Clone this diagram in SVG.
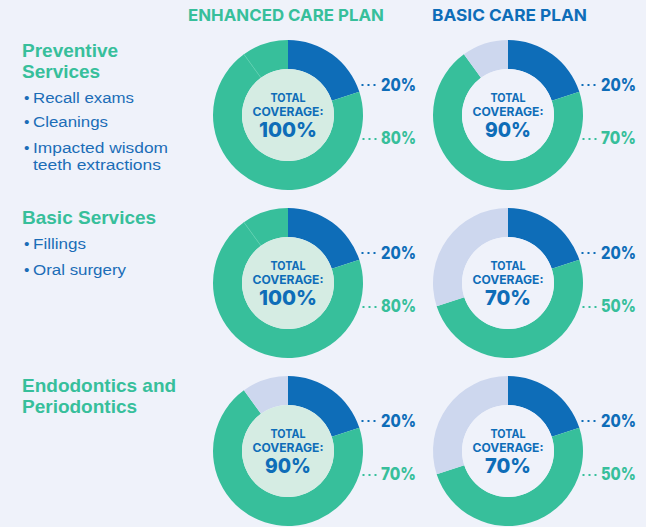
<svg xmlns="http://www.w3.org/2000/svg" width="646" height="527" viewBox="0 0 646 527">
<defs>
<style>
.hdr{font-family:Inter,"Open Sans",sans-serif;font-weight:700;font-size:16.5px}
.ttl{font-family:"Liberation Sans",Arial,sans-serif;font-weight:700;font-size:19px;fill:#37bf9b}
.bul{font-family:"Liberation Sans",Arial,sans-serif;font-size:15.5px;fill:#1b6db7}
.blue{fill:#0e6db8}
.green{fill:#37bf9b}
.light{fill:#cdd7ee}
.seam{stroke:#5ccfae;stroke-width:0.8}
.inE{fill:#d5ece3}
.inB{fill:#eff2fa}
.ct{font-family:Inter,"Open Sans",sans-serif;font-weight:800;fill:#0e6db8;text-anchor:middle}
.c1{font-size:11.5px;font-weight:700}
.c2{font-size:20.5px}
.lbl{font-family:Inter,"Open Sans",sans-serif;font-weight:800;font-size:17px;text-anchor:end}
.dotB{stroke:#0e6db8;stroke-width:2;stroke-dasharray:2 4;fill:none}
.dotG{stroke:#37bf9b;stroke-width:2;stroke-dasharray:2 4;fill:none}
</style>
<path id="segBlue" d="M0,-75 A75,75 0 0 1 71.33,-23.18 L43.75,-14.21 A46,46 0 0 0 0,-46 Z"/>
<path id="seg72_324" d="M71.33,-23.18 A75,75 0 1 1 -44.08,-60.68 L-27.04,-37.21 A46,46 0 1 0 43.75,-14.21 Z"/>
<path id="seg324_360" d="M-44.08,-60.68 A75,75 0 0 1 0,-75 L0,-46 A46,46 0 0 0 -27.04,-37.21 Z"/>
<path id="seg72_252" d="M71.33,-23.18 A75,75 0 0 1 -71.33,23.18 L-43.75,14.21 A46,46 0 0 0 43.75,-14.21 Z"/>
<path id="seg252_360" d="M-71.33,23.18 A75,75 0 0 1 0,-75 L0,-46 A46,46 0 0 0 -43.75,14.21 Z"/>
</defs>
<rect width="646" height="527" fill="#eff2fa"/>

<g id="headers">
<text class="hdr" x="188" y="21" fill="#37bf9b" textLength="196" lengthAdjust="spacingAndGlyphs">ENHANCED CARE PLAN</text>
<text class="hdr" x="432" y="21" fill="#0e6db8" textLength="155" lengthAdjust="spacingAndGlyphs">BASIC CARE PLAN</text>
</g>

<g id="row1-label">
<text class="ttl" x="22" y="57">Preventive</text>
<text class="ttl" x="22" y="78">Services</text>
<text class="bul" x="24" y="103">•</text><text class="bul" x="33" y="103" textLength="101" lengthAdjust="spacingAndGlyphs">Recall exams</text>
<text class="bul" x="24" y="127">•</text><text class="bul" x="33" y="127" textLength="75" lengthAdjust="spacingAndGlyphs">Cleanings</text>
<text class="bul" x="24" y="152.5">•</text><text class="bul" x="33" y="152.5" textLength="135" lengthAdjust="spacingAndGlyphs">Impacted wisdom</text>
<text class="bul" x="33" y="170" textLength="128" lengthAdjust="spacingAndGlyphs">teeth extractions</text>
</g>
<g id="row2-label">
<text class="ttl" x="22" y="224">Basic Services</text>
<text class="bul" x="24" y="249">•</text><text class="bul" x="33" y="249" textLength="53" lengthAdjust="spacingAndGlyphs">Fillings</text>
<text class="bul" x="24" y="275">•</text><text class="bul" x="33" y="275" textLength="93" lengthAdjust="spacingAndGlyphs">Oral surgery</text>
</g>
<g id="row3-label">
<text class="ttl" x="22" y="392">Endodontics and</text>
<text class="ttl" x="22" y="413">Periodontics</text>
</g>

<!-- Row 1 -->
<g id="donut-r1-enhanced" transform="translate(288,115)">
<use href="#segBlue" class="blue"/>
<use href="#seg72_324" class="green"/>
<use href="#seg324_360" class="green"/>
<line class="seam" x1="-27.04" y1="-37.21" x2="-44.08" y2="-60.68"/>
<circle r="46" class="inE"/>
<text class="ct c1" y="-13" textLength="35" lengthAdjust="spacingAndGlyphs">TOTAL</text>
<text class="ct c1" y="0.5" textLength="71" lengthAdjust="spacingAndGlyphs">COVERAGE:</text>
<text class="ct c2" y="22" textLength="58" lengthAdjust="spacingAndGlyphs">100%</text>
<text class="lbl blue" x="128" y="-24" textLength="35" lengthAdjust="spacingAndGlyphs">20%</text>
<text class="lbl green" x="128" y="29" textLength="35" lengthAdjust="spacingAndGlyphs">80%</text>
</g>
<g id="donut-r1-basic" transform="translate(508,115)">
<use href="#segBlue" class="blue"/>
<use href="#seg72_324" class="green"/>
<use href="#seg324_360" class="light"/>
<circle r="46" class="inB"/>
<text class="ct c1" y="-13" textLength="35" lengthAdjust="spacingAndGlyphs">TOTAL</text>
<text class="ct c1" y="0.5" textLength="71" lengthAdjust="spacingAndGlyphs">COVERAGE:</text>
<text class="ct c2" y="22" textLength="46" lengthAdjust="spacingAndGlyphs">90%</text>
<text class="lbl blue" x="128" y="-24" textLength="35" lengthAdjust="spacingAndGlyphs">20%</text>
<text class="lbl green" x="128" y="29" textLength="35" lengthAdjust="spacingAndGlyphs">70%</text>
</g>

<!-- Row 2 -->
<g id="donut-r2-enhanced" transform="translate(288,283)">
<use href="#segBlue" class="blue"/>
<use href="#seg72_324" class="green"/>
<use href="#seg324_360" class="green"/>
<line class="seam" x1="-27.04" y1="-37.21" x2="-44.08" y2="-60.68"/>
<circle r="46" class="inE"/>
<text class="ct c1" y="-13" textLength="35" lengthAdjust="spacingAndGlyphs">TOTAL</text>
<text class="ct c1" y="0.5" textLength="71" lengthAdjust="spacingAndGlyphs">COVERAGE:</text>
<text class="ct c2" y="22" textLength="58" lengthAdjust="spacingAndGlyphs">100%</text>
<text class="lbl blue" x="128" y="-24" textLength="35" lengthAdjust="spacingAndGlyphs">20%</text>
<text class="lbl green" x="128" y="29" textLength="35" lengthAdjust="spacingAndGlyphs">80%</text>
</g>
<g id="donut-r2-basic" transform="translate(508,283)">
<use href="#segBlue" class="blue"/>
<use href="#seg72_252" class="green"/>
<use href="#seg252_360" class="light"/>
<circle r="46" class="inB"/>
<text class="ct c1" y="-13" textLength="35" lengthAdjust="spacingAndGlyphs">TOTAL</text>
<text class="ct c1" y="0.5" textLength="71" lengthAdjust="spacingAndGlyphs">COVERAGE:</text>
<text class="ct c2" y="22" textLength="46" lengthAdjust="spacingAndGlyphs">70%</text>
<text class="lbl blue" x="128" y="-24" textLength="35" lengthAdjust="spacingAndGlyphs">20%</text>
<text class="lbl green" x="128" y="29" textLength="35" lengthAdjust="spacingAndGlyphs">50%</text>
</g>

<!-- Row 3 -->
<g id="donut-r3-enhanced" transform="translate(288,451)">
<use href="#segBlue" class="blue"/>
<use href="#seg72_324" class="green"/>
<use href="#seg324_360" class="light"/>
<circle r="46" class="inE"/>
<text class="ct c1" y="-13" textLength="35" lengthAdjust="spacingAndGlyphs">TOTAL</text>
<text class="ct c1" y="0.5" textLength="71" lengthAdjust="spacingAndGlyphs">COVERAGE:</text>
<text class="ct c2" y="22" textLength="46" lengthAdjust="spacingAndGlyphs">90%</text>
<text class="lbl blue" x="128" y="-24" textLength="35" lengthAdjust="spacingAndGlyphs">20%</text>
<text class="lbl green" x="128" y="29" textLength="35" lengthAdjust="spacingAndGlyphs">70%</text>
</g>
<g id="donut-r3-basic" transform="translate(508,451)">
<use href="#segBlue" class="blue"/>
<use href="#seg72_252" class="green"/>
<use href="#seg252_360" class="light"/>
<circle r="46" class="inB"/>
<text class="ct c1" y="-13" textLength="35" lengthAdjust="spacingAndGlyphs">TOTAL</text>
<text class="ct c1" y="0.5" textLength="71" lengthAdjust="spacingAndGlyphs">COVERAGE:</text>
<text class="ct c2" y="22" textLength="46" lengthAdjust="spacingAndGlyphs">70%</text>
<text class="lbl blue" x="128" y="-24" textLength="35" lengthAdjust="spacingAndGlyphs">20%</text>
<text class="lbl green" x="128" y="29" textLength="35" lengthAdjust="spacingAndGlyphs">50%</text>
</g>

<g id="connectors">
<g transform="translate(288,115)"><path class="dotB" d="M73.5,-30 H88"/><path class="dotG" d="M74.5,24 H89"/></g>
<g transform="translate(508,115)"><path class="dotB" d="M73.5,-30 H88"/><path class="dotG" d="M74.5,24 H89"/></g>
<g transform="translate(288,283)"><path class="dotB" d="M73.5,-30 H88"/><path class="dotG" d="M74.5,24 H89"/></g>
<g transform="translate(508,283)"><path class="dotB" d="M73.5,-30 H88"/><path class="dotG" d="M74.5,24 H89"/></g>
<g transform="translate(288,451)"><path class="dotB" d="M73.5,-30 H88"/><path class="dotG" d="M74.5,24 H89"/></g>
<g transform="translate(508,451)"><path class="dotB" d="M73.5,-30 H88"/><path class="dotG" d="M74.5,24 H89"/></g>
</g>
</svg>
